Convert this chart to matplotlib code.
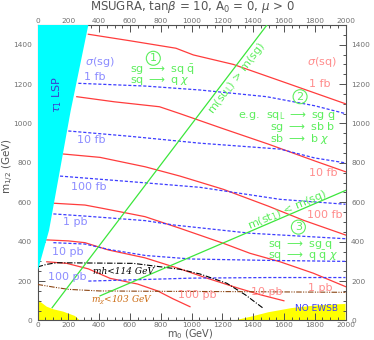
import numpy as np
import matplotlib
matplotlib.use("Agg")
import matplotlib.pyplot as plt
from matplotlib.ticker import MultipleLocator

# --- data (m0, m1/2 in GeV) ---
# stau LSP region (left) and no-EWSB regions (bottom)
stau_m0 = [0, 330, 215, 75, 0]
stau_m12 = [1500, 1500, 1063, 458, 248]
ewsb_l_m0 = [0, 0, 16, 60, 103, 167, 243, 275]
ewsb_l_m12 = [0, 113, 96, 70, 57, 45, 23, 0]
ewsb_r_m0 = [1280, 1400, 1500, 1650, 1800, 2000, 2000]
ewsb_r_m12 = [0, 22, 42, 63, 76, 84, 0]

# squark cross section contours (red)
sq_1fb_m0 = [330, 600, 899, 1012, 1271, 1600, 2000]
sq_1fb_m12 = [1453, 1420, 1382, 1348, 1300, 1210, 1100]
sq_10fb_m0 = [255, 500, 792, 925, 1200, 1500, 1800, 2000]
sq_10fb_m12 = [1136, 1110, 1085, 1050, 975, 895, 810, 755]
sq_100fb_m0 = [168, 406, 700, 925, 1206, 1500, 1726, 2000]
sq_100fb_m12 = [845, 828, 780, 733, 666, 580, 509, 434]
sq_1pb_m0 = [109, 308, 417, 568, 698, 925, 1206, 1380, 1575, 1791, 2000]
sq_1pb_m12 = [595, 586, 570, 547, 527, 468, 392, 341, 298, 240, 172]
sq_10pb_m0 = [60, 200, 308, 460, 698, 925, 1100, 1300, 1450, 1600]
sq_10pb_m12 = [409, 404, 395, 358, 318, 262, 215, 165, 130, 100]
sq_100pb_m0 = [60, 190, 330, 471, 650, 780, 880, 990]
sq_100pb_m12 = [298, 290, 262, 214, 185, 150, 110, 70]

# gluino cross section contours (blue)
sg_1fb_m0 = [265, 700, 1055, 1488, 1800, 2000]
sg_1fb_m12 = [1204, 1190, 1170, 1136, 1090, 1050]
sg_10fb_m0 = [200, 600, 1055, 1575, 1800, 2000]
sg_10fb_m12 = [962, 935, 900, 870, 825, 800]
sg_100fb_m0 = [146, 600, 1055, 1575, 2000]
sg_100fb_m12 = [733, 705, 676, 615, 590]
sg_1pb_m0 = [103, 308, 698, 882, 1380, 2000]
sg_1pb_m12 = [541, 530, 507, 485, 443, 415]
sg_10pb_m0 = [103, 308, 460, 700, 1000, 1500, 2000]
sg_10pb_m12 = [395, 388, 361, 330, 312, 305, 300]
sg_100pb_m0 = [330, 600, 1000, 1500, 2000]
sg_100pb_m12 = [200, 206, 215, 218, 218]

# mass limits
mh_m0 = [0, 60, 125, 300, 622, 925, 1055, 1229, 1350, 1466]
mh_m12 = [272, 285, 293, 292, 290, 260, 236, 189, 130, 62]
mchi_m0 = [0, 100, 200, 400, 800, 1400, 2000]
mchi_m12 = [183, 170, 158, 150, 148, 146, 143]

# green boundaries
sul_m0 = [95, 1490]
sul_m12 = [65, 1500]
st1_m0 = [406, 2000]
st1_m12 = [125, 660]

red = "#ff3c3c"
red_lbl = "#ff8c8c"
blue = "#3c3cff"
blue_lbl = "#8c8cff"
green = "#3ce63c"
green_lbl = "#5cee5c"

fig = plt.figure(figsize=(3.74, 3.40), dpi=100)
ax = fig.add_axes([0.1003, 0.0574, 0.8235, 0.8691])

ax.fill(stau_m0, stau_m12, color="#00ffff", lw=0, zorder=4)
ax.fill(ewsb_l_m0, ewsb_l_m12, color="#ffff00", lw=0, zorder=1)
ax.fill(ewsb_r_m0, ewsb_r_m12, color="#ffff00", lw=0, zorder=1)

for xs, ys in [(sq_1fb_m0, sq_1fb_m12), (sq_10fb_m0, sq_10fb_m12),
               (sq_100fb_m0, sq_100fb_m12), (sq_1pb_m0, sq_1pb_m12),
               (sq_10pb_m0, sq_10pb_m12), (sq_100pb_m0, sq_100pb_m12)]:
    ax.plot(xs, ys, color=red, lw=0.9, zorder=2)

for xs, ys in [(sg_1fb_m0, sg_1fb_m12), (sg_10fb_m0, sg_10fb_m12),
               (sg_100fb_m0, sg_100fb_m12), (sg_1pb_m0, sg_1pb_m12),
               (sg_10pb_m0, sg_10pb_m12), (sg_100pb_m0, sg_100pb_m12)]:
    ax.plot(xs, ys, color=blue, lw=0.9, dashes=(2.5, 1.5), zorder=2)

ax.plot(mh_m0, mh_m12, color="black", lw=0.8, dashes=(5, 1.5, 1, 1.5), zorder=3)
ax.plot(mchi_m0, mchi_m12, color="#8b4513", lw=0.8,
        dashes=(5, 1.2, 1, 1.2, 1, 1.2), zorder=3)
ax.plot(sul_m0, sul_m12, color=green, lw=0.9, zorder=3)
ax.plot(st1_m0, st1_m12, color=green, lw=0.9, zorder=3)

# labels
fs = 8
ax.text(405, 1314, r"$\sigma$(sg)", color=blue_lbl, fontsize=fs, ha="center", va="center")
ax.text(373, 1237, "1 fb", color=blue_lbl, fontsize=fs, ha="center", va="center")
ax.text(352, 916, "10 fb", color=blue_lbl, fontsize=fs, ha="center", va="center")
ax.text(330, 679, "100 fb", color=blue_lbl, fontsize=fs, ha="center", va="center")
ax.text(243, 499, "1 pb", color=blue_lbl, fontsize=fs, ha="center", va="center")
ax.text(195, 349, "10 pb", color=blue_lbl, fontsize=fs, ha="center", va="center")
ax.text(190, 220, "100 pb", color=blue_lbl, fontsize=fs, ha="center", va="center")

ax.text(1845, 1314, r"$\sigma$(sq)", color=red_lbl, fontsize=fs, ha="center", va="center")
ax.text(1834, 1199, "1 fb", color=red_lbl, fontsize=fs, ha="center", va="center")
ax.text(1856, 750, "10 fb", color=red_lbl, fontsize=fs, ha="center", va="center")
ax.text(1867, 535, "100 fb", color=red_lbl, fontsize=fs, ha="center", va="center")
ax.text(1834, 163, "1 pb", color=red_lbl, fontsize=fs, ha="center", va="center")
ax.text(1488, 146, "10 pb", color=red_lbl, fontsize=fs, ha="center", va="center")
ax.text(1035, 129, "100 pb", color=red_lbl, fontsize=fs, ha="center", va="center")

ax.text(127, 1145, r"$\tau_1$ LSP", color="#3c3cd0", fontsize=fs, rotation=90,
        ha="center", va="center", zorder=5)
ax.text(1810, 63, "NO EWSB", color="#3c3cff", fontsize=6.5, ha="center", va="center")

ax.text(558, 251, "mh<114 GeV", color="black", fontsize=6.5, family="DejaVu Serif",
        style="italic", ha="center", va="center", zorder=5)
ax.text(549, 104, r"$m_\chi$<103 GeV", color="#cc6a10", fontsize=6.5,
        family="DejaVu Serif", style="italic", math_fontfamily="dejavuserif",
        ha="center", va="center", zorder=5)

ax.text(1296, 1231, r"m(su$_{\rm L}$) > m(sg)", color=green_lbl, fontsize=fs,
        rotation=52.7, ha="center", va="center", rotation_mode="anchor")
ax.text(1620, 562, r"m(st$_1$) < m(sq)", color=green_lbl, fontsize=fs,
        rotation=23, ha="center", va="center", rotation_mode="anchor")

circ = dict(boxstyle="circle,pad=0.18", fc="none", ec=green_lbl, lw=0.8)
ax.text(752, 1331, "1", color=green_lbl, fontsize=fs, ha="center", va="center", bbox=circ)
ax.text(1705, 1136, "2", color=green_lbl, fontsize=fs, ha="center", va="center", bbox=circ)
ax.text(1694, 474, "3", color=green_lbl, fontsize=fs, ha="center", va="center", bbox=circ)

arr = r"$\longrightarrow$"
ax.text(600, 1272, "sg " + arr + r" sq $\bar{\rm q}$", color=green_lbl, fontsize=fs, va="center")
ax.text(600, 1216, "sq " + arr + r" q $\chi$", color=green_lbl, fontsize=fs, va="center")
ax.text(1304, 1040, r"e.g.  sq$_{\rm L}$ " + arr + " sg q", color=green_lbl, fontsize=fs, va="center")
ax.text(1510, 984, "sg " + arr + r" sb $\bar{\rm b}$", color=green_lbl, fontsize=fs, va="center")
ax.text(1510, 920, "sb " + arr + r" b $\chi$", color=green_lbl, fontsize=fs, va="center")
ax.text(1497, 383, "sq " + arr + " sg q", color=green_lbl, fontsize=fs, va="center")
ax.text(1497, 330, "sq " + arr + r" q $\bar{\rm q}$ $\chi$", color=green_lbl, fontsize=fs, va="center")

ax.set_xlim(0, 2000)
ax.set_ylim(0, 1500)
ax.xaxis.set_major_locator(MultipleLocator(200))
ax.xaxis.set_minor_locator(MultipleLocator(50))
ax.yaxis.set_major_locator(MultipleLocator(200))
ax.yaxis.set_minor_locator(MultipleLocator(50))
ax.tick_params(which="both", direction="in", top=True, right=True,
               labeltop=True, labelright=True, colors="#505050",
               labelcolor="#707070", labelsize=5.3, width=0.7)
ax.tick_params(which="major", length=5)
ax.tick_params(which="minor", length=2.5)
ax.tick_params(axis="x", which="major", pad=1)
ax.tick_params(axis="y", which="major", pad=4)
for sp in ax.spines.values():
    sp.set_color("#505050")
    sp.set_linewidth(0.8)

# the "0" labels on the y axes sit a little above their tick
t0 = ax.yaxis.get_major_ticks()[0]
t0.label1.set_verticalalignment("bottom")
t0.label2.set_verticalalignment("bottom")

fig.text(192 / 374, 1 - 7 / 340, r"MSUGRA, tan$\beta$ = 10, A$_0$ = 0, $\mu$ > 0",
         color="#555555", fontsize=8.5, ha="center", va="center")
fig.text(190 / 374, 1 - 334 / 340, r"m$_0$ (GeV)", color="#555555", fontsize=7,
         ha="center", va="center")
fig.text(8 / 374, 1 - 166 / 340, r"m$_{1/2}$ (GeV)", color="#555555", fontsize=7.5,
         rotation=90, ha="center", va="center")

fig.savefig("out.png", dpi=100)
